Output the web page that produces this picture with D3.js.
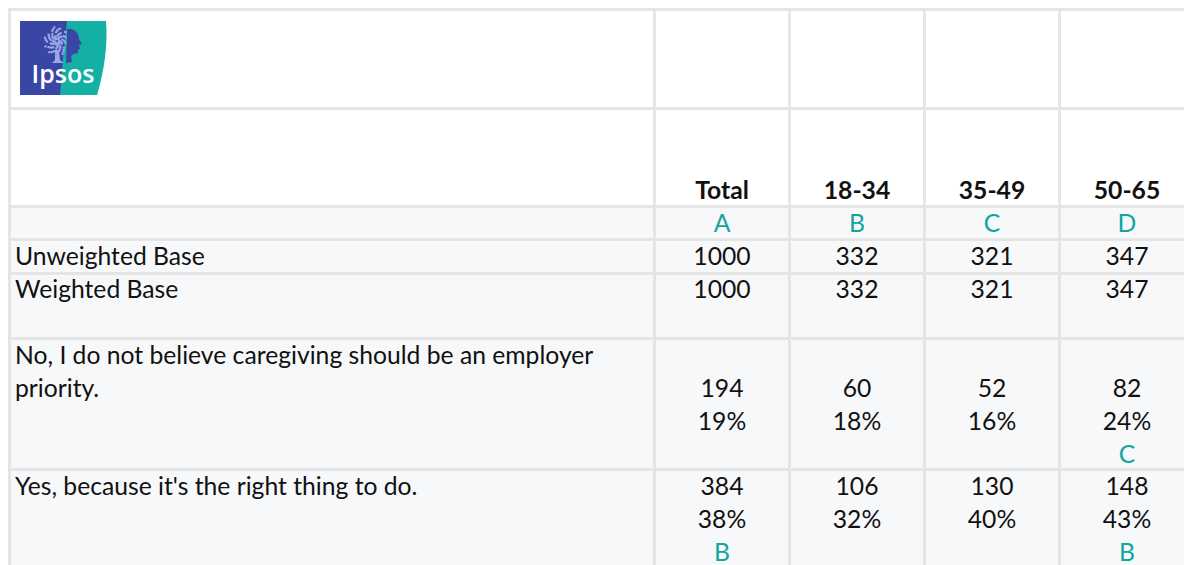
<!DOCTYPE html>
<html>
<head>
<meta charset="utf-8">
<script src="https://cdn.jsdelivr.net/npm/d3@7"></script>
<style>
  html, body { margin: 0; padding: 0; background: #ffffff; }
  svg { display: block; }
</style>
</head>
<body>
<svg id="chart" width="1184" height="565"></svg>
<script>
// ---- data ----
const columns = ["Total", "18-34", "35-49", "50-65"];
const columnLetters = ["A", "B", "C", "D"];
const unweightedBase = [1000, 332, 321, 347];
const weightedBase = [1000, 332, 321, 347];
const rowLabels = ["Unweighted Base", "Weighted Base",
  "No, I do not believe caregiving should be an employer priority.",
  "Yes, because it's the right thing to do."];
const noCounts = [194, 60, 52, 82];
const noPercents = [19, 18, 16, 24];
const noSig = ["", "", "", "C"];
const yesCounts = [384, 106, 130, 148];
const yesPercents = [38, 32, 40, 43];
const yesSig = ["B", "", "", "B"];

// ---- layout ----
const W = 1184, H = 565;
const lineW = 3;
const gridColor = "#e5e5e5";
const lightBg = "#f7f8fa";
const teal = "#12a59e";
const textColor = "#111111";
const font = "Lato, 'Open Sans', sans-serif";
const fs = 24.7;
const lineH = 33;

const svg = d3.select("#chart");
const x = d3.scaleBand().domain(columns).range([653, 653 + 135 * columns.length]).padding(0);
const labelX0 = 8;
const rowTops = [8, 107, 205, 238, 272, 337, 468, 599];
const rowBg = ["#ffffff", "#ffffff", lightBg, lightBg, lightBg, lightBg, lightBg];

svg.append("rect").attr("width", W).attr("height", H).attr("fill", "#ffffff");

const colEdges = [labelX0].concat(columns.map(c => x(c)));
const colEnds = columns.map(c => x(c)).concat([x(columns[columns.length - 1]) + x.bandwidth()]);
for (let r = 0; r < rowTops.length - 1; r++) {
  for (let c = 0; c < colEdges.length; c++) {
    svg.append("rect")
      .attr("x", colEdges[c]).attr("y", rowTops[r])
      .attr("width", colEnds[c] - colEdges[c]).attr("height", rowTops[r + 1] - rowTops[r])
      .attr("fill", rowBg[r]);
  }
}
const gridG = svg.append("g");
rowTops.forEach(y0 => gridG.append("rect").attr("x", labelX0).attr("y", y0).attr("width", W).attr("height", lineW).attr("fill", gridColor));
colEdges.concat(colEnds.slice(-1)).forEach(x0 => gridG.append("rect").attr("x", x0).attr("y", rowTops[0]).attr("width", lineW).attr("height", H).attr("fill", gridColor));

const cx = c => x(c) + lineW + (x.bandwidth() - lineW) / 2;
function cellText(txt, xx, y, opts = {}) {
  return svg.append("text")
    .attr("x", xx).attr("y", y)
    .attr("text-anchor", opts.anchor || "middle")
    .attr("font-family", font)
    .attr("font-size", fs)
    .attr("font-weight", opts.bold ? 700 : 400)
    .attr("fill", opts.color || textColor)
    .text(txt);
}
const base = (r, k) => rowTops[r] + 27 + k * lineH;

columns.forEach(c => cellText(c, cx(c), rowTops[2] - 6, { bold: true }));
columnLetters.forEach((l, i) => cellText(l, cx(columns[i]), base(2, 0), { color: teal }));

const lx = 15;
cellText(rowLabels[0], lx, base(3, 0), { anchor: "start" });
unweightedBase.forEach((v, i) => cellText(v, cx(columns[i]), base(3, 0)));
cellText(rowLabels[1], lx, base(4, 0) - 1, { anchor: "start" });
weightedBase.forEach((v, i) => cellText(v, cx(columns[i]), base(4, 0) - 1));

cellText("No, I do not believe caregiving should be an employer", lx, base(5, 0), { anchor: "start" });
cellText("priority.", lx, base(5, 1), { anchor: "start" });
noCounts.forEach((v, i) => cellText(v, cx(columns[i]), base(5, 1)));
noPercents.forEach((v, i) => cellText(v + "%", cx(columns[i]), base(5, 2)));
noSig.forEach((v, i) => cellText(v, cx(columns[i]), base(5, 3), { color: teal }));

cellText(rowLabels[3], lx, base(6, 0), { anchor: "start" });
yesCounts.forEach((v, i) => cellText(v, cx(columns[i]), base(6, 0)));
yesPercents.forEach((v, i) => cellText(v + "%", cx(columns[i]), base(6, 1)));
yesSig.forEach((v, i) => cellText(v, cx(columns[i]), base(6, 2), { color: teal }));

// ---- logo ----
const logo = svg.append("g");
const blue = "#3a46a4", lteal = "#14b0a6";
logo.append("path").attr("fill", lteal)
  .attr("d", "M62,21 L106,21 C108,45 104,72 97,95 L58,95 Z");
logo.append("path").attr("fill", blue)
  .attr("d", "M20,21 L67,21 C64,45 62,70 60,95 L20,95 Z");
const dots = [];
for (let a = 0; a < 80; a++) {
  const ang = a * 2.4, rr = 2 + (a % 10) * 1.15;
  dots.push([57 + Math.cos(ang) * rr, 41 + Math.sin(ang) * rr * 1.15]);
}
logo.selectAll("circle.dot").data(dots).enter().append("circle")
  .attr("cx", d => d[0]).attr("cy", d => d[1]).attr("r", 1.2).attr("fill", "#9aa6e6");
logo.append("path").attr("fill", "#9aa6e6")
  .attr("d", "M55,50 L59,50 L60,60 L64,63 L52,63 L55,60 Z");
logo.append("path").attr("fill", blue)
  .attr("d", "M67,29 C74,28 79,33 79,39 L82,44 L79,45 L80,49 L78,50 L78,53 C75,54 72,54 71,56 L72,62 L66,63 Z");
logo.append("text").attr("x", 63).attr("y", 83).attr("text-anchor", "middle")
  .attr("font-family", "'Open Sans', sans-serif").attr("font-weight", 600)
  .attr("font-size", 25).attr("fill", "#ffffff").text("Ipsos");
</script>
</body>
</html>
